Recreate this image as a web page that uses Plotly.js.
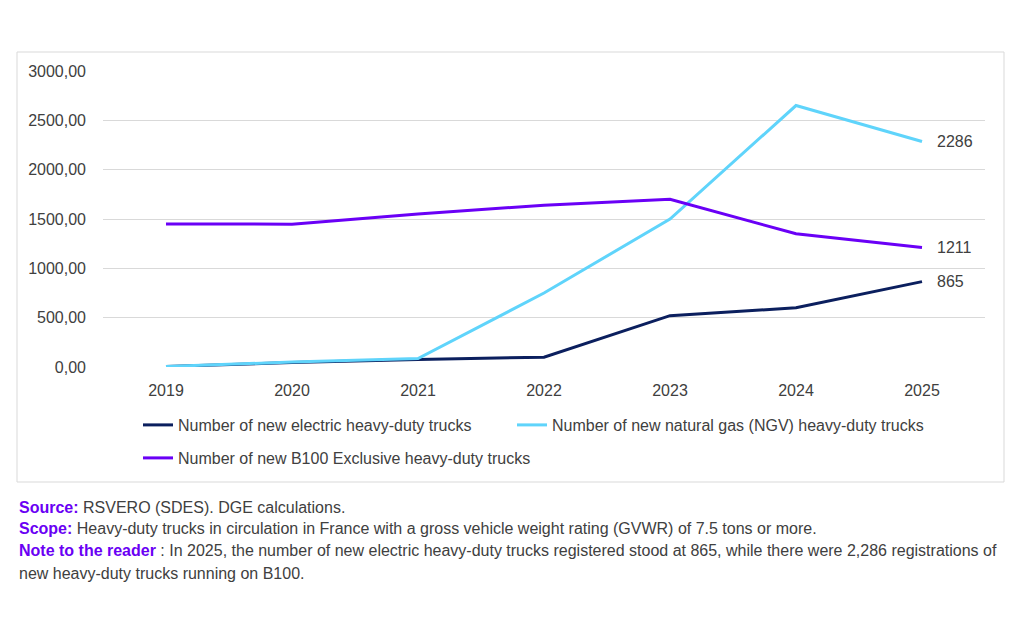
<!DOCTYPE html>
<html>
<head>
<meta charset="utf-8">
<script src="https://cdn.plot.ly/plotly-3.0.1.min.js"></script>
<style>
  html, body { margin: 0; padding: 0; background: #ffffff; }
  #chart { width: 1024px; height: 640px; }
</style>
</head>
<body>
<div id="chart"></div>
<script>
// ---- Data ----
const years = ['2019', '2020', '2021', '2022', '2023', '2024', '2025'];
const electric = [5, 45, 75, 100, 520, 600, 865];
const ngv = [5, 50, 85, 750, 1500, 2650, 2286];
const b100 = [1450, 1448, 1550, 1640, 1700, 1350, 1211];
const seriesNames = [
  'Number of new electric heavy-duty trucks',
  'Number of new natural gas (NGV) heavy-duty trucks',
  'Number of new B100 Exclusive heavy-duty trucks'
];
const yTicks = [0, 500, 1000, 1500, 2000, 2500, 3000];
const footnotes = [
  ['Source:', ' RSVERO (SDES). DGE calculations.'],
  ['Scope:', ' Heavy-duty trucks in circulation in France with a gross vehicle weight rating (GVWR) of 7.5 tons or more.'],
  ['Note to the reader', ' : In 2025, the number of new electric heavy-duty trucks registered stood at 865, while there were 2,286 registrations of'],
  ['', 'new heavy-duty trucks running on B100.']
];

// ---- Styles ----
const colors = ['#0b1f5e', '#5fd4fb', '#6a00f6'];
const textColor = '#404040';
const accent = '#6a00f4';
const chartFont = '"Liberation Sans", Arial, sans-serif';
const noteFont = '"Liberation Sans", Arial, sans-serif';

const plotTop = 71, plotBottom = 367, plotLeft = 103, plotRight = 985;
const pH = plotBottom - plotTop, pW = plotRight - plotLeft;

const legendNames = ['legend', 'legend2', 'legend3'];
const seriesData = [electric, ngv, b100];
const traces = seriesData.map((vals, i) => ({
  type: 'scatter',
  mode: 'lines',
  x: years,
  y: vals,
  name: seriesNames[i],
  line: { color: colors[i], width: 3 },
  legend: legendNames[i],
  hoverinfo: 'skip'
}));

// End labels (x given as category index of last year)
const annotations = seriesData.map((vals, i) => ({
  x: years.length - 1,
  y: vals[vals.length - 1],
  xref: 'x', yref: 'y',
  text: String(vals[vals.length - 1]),
  showarrow: false,
  xanchor: 'left',
  yanchor: 'middle',
  xshift: 13,
  font: { family: chartFont, size: 16, color: textColor }
}));

const noteY = [507, 528, 550, 573];
footnotes.forEach((f, i) => {
  const label = f[0] ? '<b><span style="color:' + accent + '">' + f[0] + '</span></b>' : '';
  annotations.push({
    xref: 'paper', yref: 'paper',
    x: (17 - plotLeft) / pW,
    y: (plotBottom - noteY[i]) / pH,
    xanchor: 'left', yanchor: 'middle',
    text: label + f[1],
    showarrow: false,
    align: 'left',
    font: { family: noteFont, size: 16, color: textColor }
  });
});

// Legend positions (left px, top px)
const legendPos = [[138, 408], [512, 408], [138, 441]];
const layout = {
  width: 1024,
  height: 640,
  margin: { l: plotLeft, r: 1024 - plotRight, t: plotTop, b: 640 - plotBottom, pad: 0 },
  paper_bgcolor: '#ffffff',
  plot_bgcolor: '#ffffff',
  separators: ', ',
  showlegend: true,
  xaxis: {
    type: 'category',
    range: [-0.5, years.length - 0.5],
    showgrid: false,
    zeroline: false,
    showline: false,
    ticks: '',
    ticklabelstandoff: 12,
    tickfont: { family: chartFont, size: 16, color: textColor },
    fixedrange: true
  },
  yaxis: {
    range: [0, 3000],
    tickvals: yTicks,
    tickformat: '.2f',
    showgrid: true,
    gridcolor: '#d9d9d9',
    gridwidth: 1,
    zeroline: false,
    showline: false,
    ticks: '',
    ticklabelstandoff: 16,
    tickfont: { family: chartFont, size: 16, color: textColor },
    fixedrange: true
  },
  shapes: [{
    type: 'rect',
    xref: 'paper', yref: 'paper',
    x0: (17 - plotLeft) / pW, x1: (1004 - plotLeft) / pW,
    y0: (plotBottom - 482) / pH, y1: (plotBottom - 52) / pH,
    line: { color: '#d9d9d9', width: 1 },
    fillcolor: 'rgba(0,0,0,0)',
    layer: 'below'
  }],
  annotations: annotations
};
legendNames.forEach((ln, i) => {
  layout[ln] = {
    orientation: 'h',
    x: (legendPos[i][0] - plotLeft) / pW,
    y: (plotBottom - legendPos[i][1]) / pH,
    xanchor: 'left', yanchor: 'top',
    font: { family: chartFont, size: 16, color: textColor },
    bgcolor: 'rgba(0,0,0,0)'
  };
});

Plotly.newPlot('chart', traces, layout, { staticPlot: true, displayModeBar: false });
</script>
</body>
</html>
